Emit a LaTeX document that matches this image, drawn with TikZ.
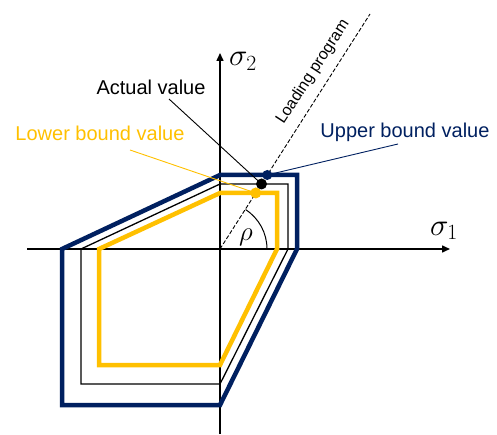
\RequirePackage{fix-cm}
\documentclass[tikz,border=0pt]{standalone}
\usepackage{amsmath,amssymb}
\usepackage{fontspec}
\setmainfont{Liberation Sans}
\usepackage{tikz}
\usetikzlibrary{calc,arrows.meta,positioning}
\definecolor{ubNavy}{RGB}{0,32,96}
\definecolor{lbGold}{RGB}{255,192,0}

\begin{document}
\begin{tikzpicture}[x=1pt,y=1pt,
    labeltext/.style={font=\fontsize{20}{24}\selectfont, inner sep=0pt},
    axislabel/.style={anchor=base west, inner sep=0pt, font=\fontsize{31}{34}\selectfont},
    surface/.style={line width=#1, line join=miter},
    leader/.style={line width=0.9pt},
    dot/.style={circle, inner sep=0pt, minimum size=#1}]
    \useasboundingbox (0,0) rectangle (497,434);

    % axes
    \coordinate (O) at (220,185);
    \draw[line width=1.5pt, -{Triangle[width=7pt,length=8pt]}] (27,185) -- (450,185);
    \draw[line width=1.5pt, -{Triangle[width=7pt,length=8pt]}] (220,0) -- (220,381);
    \node[axislabel] (s1) at (430,199) {$\sigma_1$};
    \node[axislabel] (s2) at (229,368) {$\sigma_2$};

    % yield surfaces: upper bound, actual, lower bound
    \draw[ubNavy, surface=4.5pt] (62,185) -- (220,259) -- (297,259) -- (297,185) -- (220,29) -- (62,29) -- cycle;
    \draw[black, surface=1.3pt] (81,185) -- (220,250) -- (288,250) -- (288,185) -- (220,50) -- (81,50) -- cycle;
    \draw[lbGold, surface=4.5pt] (99,185) -- (220,241) -- (277,241) -- (277,185) -- (220,69) -- (99,69) -- cycle;

    % loading program, angle 57 degrees
    \coordinate (L) at (370,420);
    \draw[line width=0.9pt, dash pattern=on 4pt off 2pt] (O) -- (L);
    \node[font=\fontsize{16}{18}\selectfont, rotate=57, inner sep=0pt] (load) at (313,362) {Loading program};

    % angle rho
    \draw[line width=1pt] ($(O)+(47,0)$) arc (0:57:47);
    \node[font=\fontsize{27}{30}\selectfont] (rho) at (246,197) {$\rho$};

    % points on the loading path
    \node[dot=10pt, fill=ubNavy] (pu) at (intersection of O--L and 220,259--297,259) {};
    \node[dot=11pt, fill=black] (pa) at (intersection of O--L and 220,250--288,250) {};
    \node[dot=11pt, fill=lbGold] (pl) at (intersection of O--L and 220,241--277,241) {};

    % labels and leaders
    \node[labeltext, text=black] (actual) at (151,347) {Actual value};
    \node[labeltext, text=lbGold] (lower) at (100,301) {Lower bound value};
    \node[labeltext, text=ubNavy] (upper) at (405,302) {Upper bound value};
    \coordinate (actualend) at (169,335);
    \coordinate (lowerend) at (130,284);
    \coordinate (upperend) at (398,290);
    \draw[leader, black] (actualend) -- (pa.center);
    \draw[leader, lbGold] (lowerend) -- (pl.center);
    \draw[leader, ubNavy] (upperend) -- (pu.center);
\end{tikzpicture}
\end{document}
